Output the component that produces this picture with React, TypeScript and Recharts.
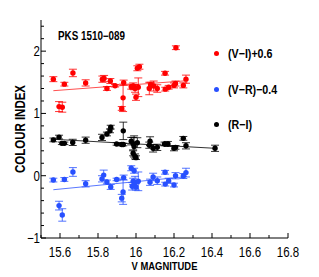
import React from "react";
import { ComposedChart, Scatter, Line, XAxis, YAxis, ErrorBar, Legend } from "recharts";

const redX = [15.565,15.595,15.612,15.623,15.668,15.735,15.823,15.832,15.847,15.865,15.89,15.925,15.932,15.935,15.975,15.985,15.99,15.995,16.0,16.007,16.018,16.012,16.07,16.077,16.093,16.112,16.153,16.154,16.172,16.2,16.208,16.21,16.249,16.263];
const redY = [1.55,1.11,1.10,1.47,1.65,1.49,1.55,1.56,1.40,1.52,1.445,1.08,1.25,1.495,1.43,1.44,1.42,1.40,1.26,1.725,1.75,1.42,1.40,1.46,1.44,1.40,1.645,1.39,1.42,1.45,1.48,2.055,1.45,1.55];
const redE = [0.04,0.08,0.08,0.03,0.06,0.05,0.05,0.05,0.03,0.04,0.02,0.03,0.22,0.04,0.04,0.05,0.04,0.06,0.05,0.04,0.04,0.15,0.1,0.04,0.08,0.06,0.03,0.03,0.03,0.04,0.04,0.03,0.04,0.065];

const blackX = [15.565,15.595,15.61,15.623,15.667,15.735,15.821,15.847,15.863,15.867,15.898,15.925,15.933,15.933,15.975,15.985,15.99,15.985,15.995,16.0,16.007,16.074,16.07,16.09,16.112,16.15,16.168,16.2,16.208,16.249,16.263,16.416];
const blackY = [0.575,0.62,0.52,0.52,0.535,0.57,0.615,0.67,0.72,0.78,0.51,0.50,0.50,0.72,0.555,0.515,0.47,0.36,0.31,0.29,0.53,0.555,0.49,0.44,0.455,0.51,0.51,0.44,0.455,0.60,0.48,0.44];
const blackE = [0.03,0.03,0.02,0.02,0.05,0.05,0.05,0.03,0.03,0.03,0.02,0.02,0.02,0.14,0.06,0.1,0.17,0.04,0.04,0.03,0.08,0.07,0.05,0.06,0.05,0.03,0.04,0.04,0.03,0.03,0.05,0.05];

const blueX = [15.565,15.595,15.612,15.623,15.668,15.735,15.821,15.83,15.847,15.867,15.898,15.925,15.932,15.935,15.975,15.99,15.98,15.985,15.995,16.0,16.012,16.074,16.09,16.112,16.153,16.154,16.172,16.2,16.208,16.249,16.263];
const blueY = [-0.07,-0.48,-0.63,-0.06,0.06,-0.13,-0.05,0.01,-0.10,-0.18,-0.06,-0.36,-0.26,-0.03,0.12,0.08,-0.17,-0.09,-0.11,-0.18,-0.09,-0.105,-0.02,-0.08,0.055,-0.135,-0.08,-0.15,0.0,-0.005,0.05];
const blueE = [0.03,0.07,0.1,0.03,0.07,0.05,0.05,0.08,0.03,0.04,0.02,0.06,0.2,0.04,0.04,0.04,0.06,0.05,0.1,0.05,0.15,0.05,0.06,0.06,0.03,0.03,0.04,0.03,0.05,0.04,0.07];

const redFitX = [15.565, 16.267];
const redFitY = [1.365, 1.525];
const blueFitX = [15.565, 16.267];
const blueFitY = [-0.225, -0.015];
const blackFitX = [15.565, 16.416];
const blackFitY = [0.585, 0.44];

const xTicks = [15.5,15.6,15.7,15.8,15.9,16.0,16.1,16.2,16.3,16.4,16.5,16.6,16.7,16.8];
const xMajor = [15.6,15.8,16.0,16.2,16.4,16.6,16.8];
const yTicks = [-1,-0.8,-0.6,-0.4,-0.2,0,0.2,0.4,0.6,0.8,1,1.2,1.4,1.6,1.8,2,2.2,2.4];
const yMajor = [-1,0,1,2];

const seriesNames = ["(V\u2212I)+0.6", "(V\u2212R)\u22120.4", "(R\u2212I)"];
const title = "PKS 1510\u2212089";
const xTitle = "V MAGNITUDE";
const yTitle = "COLOUR INDEX";

const RED = "#ff0000";
const BLUE = "#2850ff";
const BLACK = "#000000";
const FONT = "'Liberation Sans', Arial, sans-serif";
const NARROW = 0.82;

const toPts = (xs: number[], ys: number[], es?: number[]) =>
  xs.map((x, i) => ({ x, y: ys[i], e: es ? es[i] : 0 }));

const redData = toPts(redX, redY, redE);
const blackData = toPts(blackX, blackY, blackE);
const blueData = toPts(blueX, blueY, blueE);
const redFit = toPts(redFitX, redFitY);
const blueFit = toPts(blueFitX, blueFitY);
const blackFit = toPts(blackFitX, blackFitY);

const isMajor = (v: number, arr: number[]) => arr.some((m) => Math.abs(m - v) < 1e-6);
const fmt = (v: number) => {
  const s = Math.abs(v - Math.round(v)) < 1e-6 ? String(Math.round(v)) : v.toFixed(1);
  return s.replace("-", "\u2212");
};

const NText = ({ x, y, anchor, size, bold, rotate, children }: any) => (
  <text
    transform={`translate(${x} ${y})${rotate ? ` rotate(${rotate})` : ""} scale(${NARROW} 1)`}
    textAnchor={anchor}
    fontSize={size}
    fontWeight={bold ? "bold" : "normal"}
    fontFamily={FONT}
    fill="#000"
  >
    {children}
  </text>
);

const makeTick = (side: "bottom" | "top" | "left" | "right", majors: number[], labels: boolean) => (props: any) => {
  const { x, y, payload } = props;
  const v = payload.value;
  const major = isMajor(v, majors);
  const len = major ? 5 : 3;
  let line;
  if (side === "bottom") line = <line x1={x} x2={x} y1={y} y2={y - len} stroke="#000" />;
  else if (side === "top") line = <line x1={x} x2={x} y1={y} y2={y + len} stroke="#000" />;
  else if (side === "left") line = <line x1={x} x2={x + len} y1={y} y2={y} stroke="#000" />;
  else line = <line x1={x} x2={x - len} y1={y} y2={y} stroke="#000" />;
  let txt = null;
  if (labels && major) {
    if (side === "bottom")
      txt = <NText x={x} y={y + 19} anchor="middle" size={14}>{fmt(v)}</NText>;
    else if (side === "left")
      txt = <NText x={x - 1} y={y + 5} anchor="end" size={14}>{fmt(v)}</NText>;
  }
  return (
    <g>
      {line}
      {txt}
    </g>
  );
};

const XLabel = (props: any) => {
  const vb = props.viewBox;
  return <NText x={vb.x + vb.width / 2} y={vb.y + 32} anchor="middle" size={11.5} bold>{xTitle}</NText>;
};

const YLabel = (props: any) => {
  const vb = props.viewBox;
  return <NText x={vb.x + 17} y={vb.y + vb.height / 2} anchor="middle" size={14} bold rotate={-90}>{yTitle}</NText>;
};

const dot = (color: string) => (props: any) => (
  <circle cx={props.cx} cy={props.cy} r={2.7} fill={color} />
);

const legendItems = [
  { name: seriesNames[0], color: RED },
  { name: seriesNames[1], color: BLUE },
  { name: seriesNames[2], color: BLACK },
];

const LegendContent = () => (
  <div style={{ fontFamily: FONT, fontWeight: "bold", fontSize: 13 }}>
    {legendItems.map((it) => (
      <div key={it.name} style={{ height: 35.5, display: "flex", alignItems: "center", whiteSpace: "nowrap" }}>
        <span style={{ display: "inline-block", width: 5, height: 5, borderRadius: 3, background: it.color, marginRight: 9 }} />
        <span style={{ display: "inline-block", transform: `scaleX(${NARROW})`, transformOrigin: "left center" }}>{it.name}</span>
      </div>
    ))}
  </div>
);

export default function App() {
  return (
    <div style={{ position: "relative", width: 311, height: 269 }}>
      <ComposedChart width={311} height={269} margin={{ top: 12, right: 31, bottom: 0, left: 0 }}>
        <XAxis xAxisId="top" orientation="top" type="number" dataKey="x" domain={[15.5, 16.8]} ticks={xTicks} interval={0}
          height={0} tickSize={0} tickMargin={0} tick={makeTick("top", xMajor, false)} axisLine={{ stroke: "#000" }} allowDataOverflow />
        <XAxis type="number" dataKey="x" domain={[15.5, 16.8]} ticks={xTicks} interval={0} height={39}
          tickSize={0} tickMargin={0} tick={makeTick("bottom", xMajor, true)} axisLine={{ stroke: "#000" }} allowDataOverflow
          label={<XLabel />} />
        <YAxis type="number" dataKey="y" domain={[-1, 2.5]} ticks={yTicks} interval={0} width={33}
          tickSize={0} tickMargin={0} tick={makeTick("left", yMajor, true)} axisLine={{ stroke: "#000" }} allowDataOverflow
          label={<YLabel />} />
        <YAxis yAxisId="right" orientation="right" type="number" domain={[-1, 2.5]} ticks={yTicks} interval={0} width={0}
          tickSize={0} tickMargin={0} tick={makeTick("right", yMajor, false)} axisLine={{ stroke: "#000" }} allowDataOverflow />
        <Line data={redFit} dataKey="y" stroke="#ff5050" strokeWidth={1} dot={false} isAnimationActive={false} legendType="none" />
        <Line data={blueFit} dataKey="y" stroke="#5a78ff" strokeWidth={1} dot={false} isAnimationActive={false} legendType="none" />
        <Line data={blackFit} dataKey="y" stroke="#333" strokeWidth={1} dot={false} isAnimationActive={false} legendType="none" />
        <Scatter name={seriesNames[0]} data={redData} fill={RED} shape={dot(RED)} isAnimationActive={false}>
          <ErrorBar dataKey="e" direction="y" width={4} stroke={RED} strokeWidth={0.8} />
        </Scatter>
        <Scatter name={seriesNames[1]} data={blueData} fill={BLUE} shape={dot(BLUE)} isAnimationActive={false}>
          <ErrorBar dataKey="e" direction="y" width={4} stroke={BLUE} strokeWidth={0.8} />
        </Scatter>
        <Scatter name={seriesNames[2]} data={blackData} fill={BLACK} shape={dot(BLACK)} isAnimationActive={false}>
          <ErrorBar dataKey="e" direction="y" width={4} stroke={BLACK} strokeWidth={0.8} />
        </Scatter>
        <Legend layout="vertical" align="center" verticalAlign="middle" content={<LegendContent />}
          wrapperStyle={{ position: "absolute", left: 206, top: 28, width: 100 }} />
      </ComposedChart>
      <div style={{ position: "absolute", left: 50, top: 21, fontFamily: FONT, fontWeight: "bold", fontSize: 12, whiteSpace: "nowrap", lineHeight: "14px", transform: `scaleX(${NARROW})`, transformOrigin: "left center" }}>
        {title}
      </div>
    </div>
  );
}
